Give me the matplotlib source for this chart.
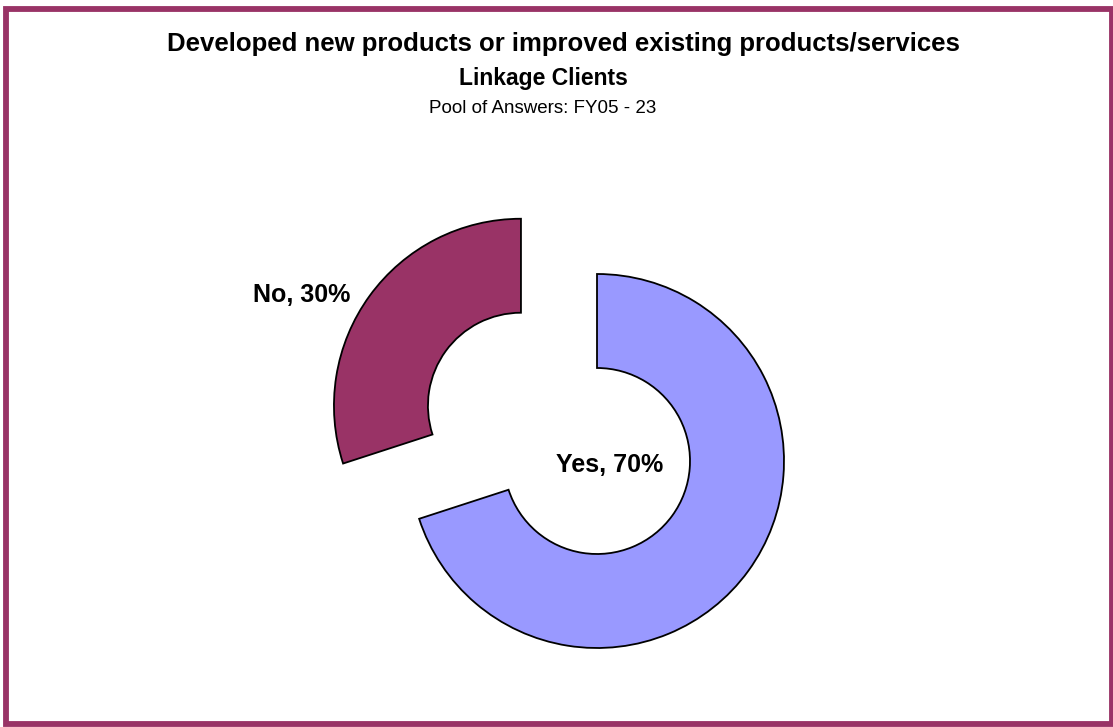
import matplotlib.pyplot as plt
from matplotlib.patches import Rectangle

# data
labels = ['Yes', 'No']
shares = [70, 30]
colors = ['#9999FF', '#993366']

title_lines = ['Developed new products or improved existing products/services',
               'Linkage Clients']
subtitle = 'Pool of Answers: FY05 - 23'

plt.rcParams['font.family'] = ['Liberation Sans', 'DejaVu Sans']

W, H = 1113, 727
fig = plt.figure(figsize=(W / 100, H / 100), dpi=100)
ax = fig.add_axes([0, 0, 1, 1])

# doughnut, "No" slice pulled out (explode is in data units here)
R = 187
wedges, _ = ax.pie(shares, colors=colors, radius=R, center=(597, H - 461),
                   startangle=90, counterclock=False, explode=[0, 94],
                   wedgeprops=dict(width=94, edgecolor='black', linewidth=1.3))
ax.set_xlim(0, W)
ax.set_ylim(0, H)
ax.set_aspect('auto')
ax.axis('off')

# data labels
ax.text(302, H - 302, f'{labels[1]}, {shares[1]}%', ha='center', va='baseline',
        fontsize=18, fontweight='bold')
ax.text(610, H - 472, f'{labels[0]}, {shares[0]}%', ha='center', va='baseline',
        fontsize=18, fontweight='bold')

# titles
fig.text(563 / W, 1 - 51 / H, title_lines[0], ha='center', va='baseline',
         fontsize=18.5, fontweight='bold')
fig.text(543 / W, 1 - 85 / H, title_lines[1], ha='center', va='baseline',
         fontsize=16.5, fontweight='bold')
fig.text(543 / W, 1 - 113 / H, subtitle, ha='center', va='baseline', fontsize=13.5)

# outer frame
fig.add_artist(Rectangle((5.5 / W, 3 / H), (1112 - 5.5) / W, (724 - 9) / H,
                         transform=fig.transFigure, fill=False,
                         edgecolor='#993366', linewidth=4.2))

fig.savefig('out.png', dpi=100)
